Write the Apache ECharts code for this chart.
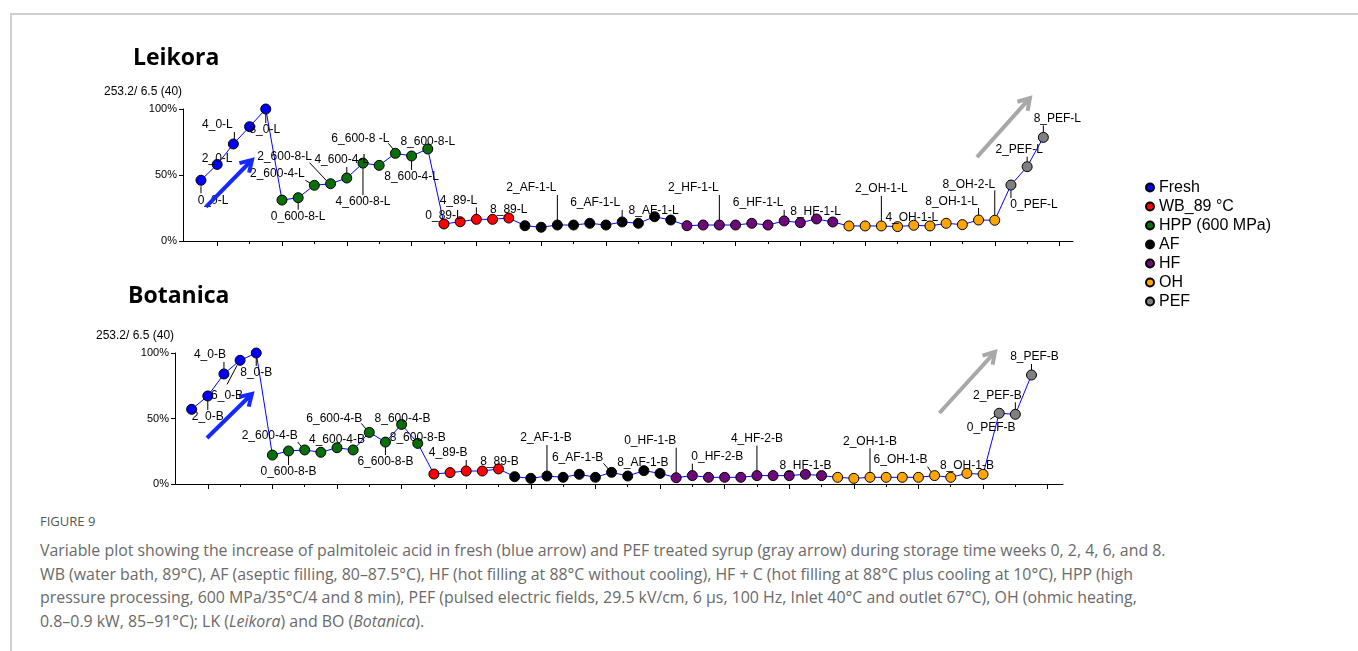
<!DOCTYPE html>
<html>
<head>
<meta charset="utf-8">
<title>Figure 9 – palmitoleic acid variable plot</title>
<script src="https://cdn.jsdelivr.net/npm/echarts@6/dist/echarts.min.js"></script>
<style>
  html, body { margin: 0; padding: 0; background: #fff; }
  body { width: 1358px; height: 651px; overflow: hidden; position: relative; }
  #frame { position: absolute; left: 10px; top: 13px; width: 1400px; height: 700px;
           border-top: 2px solid #cfcfcf; border-left: 2px solid #cfcfcf; }
  #chart { position: absolute; left: 0; top: 0; width: 1358px; height: 505px; }
  #fig { position: absolute; left: 40px; top: 512px; font: 13px 'Open Sans', sans-serif; color: #555; }
  #cap { position: absolute; left: 40px; top: 539px; font: 15.9px/23.7px 'Open Sans', sans-serif;
         color: #6a6a6a; white-space: nowrap; }
</style>
</head>
<body>
<div id="frame"></div>
<div id="chart"></div>
<div id="fig">FIGURE 9</div>
<div id="cap">Variable plot showing the increase of palmitoleic acid in fresh (blue arrow) and PEF treated syrup (gray arrow) during storage time weeks 0, 2, 4, 6, and 8.<br>WB (water bath, 89°C), AF (aseptic filling, 80–87.5°C), HF (hot filling at 88°C without cooling), HF + C (hot filling at 88°C plus cooling at 10°C), HPP (high<br>pressure processing, 600 MPa/35°C/4 and 8 min), PEF (pulsed electric fields, 29.5 kV/cm, 6 μs, 100 Hz, Inlet 40°C and outlet 67°C), OH (ohmic heating,<br>0.8–0.9 kW, 85–91°C); LK (<i>Leikora</i>) and BO (<i>Botanica</i>).</div>
<script>
// ---- treatment groups -------------------------------------------------------
const legendNames = ['Fresh', 'WB_89 °C', 'HPP (600 MPa)', 'AF', 'HF', 'OH', 'PEF'];
// order in which the groups follow each other along the x axis
const plotOrder = ['Fresh', 'HPP (600 MPa)', 'WB_89 °C', 'AF', 'HF', 'OH', 'PEF'];
const groupColors = {
  'Fresh': '#0000ff', 'WB_89 °C': '#ff0000', 'HPP (600 MPa)': '#0a6e0a',
  'AF': '#000000', 'HF': '#6e0a78', 'OH': '#ffa500', 'PEF': '#808080'
};
const yTicks = [0, 50, 100];
const scaleNote = '253.2/ 6.5 (40)';

// ---- Leikora (% of maximum) -------------------------------------------------
const leikoraFresh = [46, 58, 73.5, 86.6, 100];
const leikoraHPP   = [31, 32.8, 42.2, 43.4, 47.7, 59, 57.3, 66.4, 64.4, 69.7];
const leikoraWB    = [12.9, 14.6, 16.4, 16.4, 17.4];
const leikoraAF    = [11.6, 10.4, 12.1, 12.1, 13.4, 12.1, 14.4, 13.4, 18.4, 15.9];
const leikoraHF    = [11.6, 12.1, 12.1, 12.1, 13.4, 12.1, 15.2, 13.9, 16.7, 14.4];
const leikoraOH    = [11.4, 11.4, 11.4, 10.9, 11.9, 11.4, 13.4, 12.4, 15.9, 15.7];
const leikoraPEF   = [42.4, 56.3, 78.5];

// ---- Botanica (% of maximum) ------------------------------------------------
const botanicaFresh = [57, 67.2, 84, 94.4, 100];
const botanicaHPP   = [22.1, 25.2, 26, 24.2, 27.7, 26, 39.4, 32, 45.5, 31];
const botanicaWB    = [7.6, 8.7, 9.9, 9.9, 11.5];
const botanicaAF    = [5.6, 4.3, 6.1, 5.1, 7.4, 5.1, 8.9, 6.1, 10.2, 8.1];
const botanicaHF    = [4.8, 6.4, 5.1, 5.1, 5.1, 6.4, 6.4, 6.4, 7.4, 6.4];
const botanicaOH    = [5.1, 4.3, 5.1, 5.1, 5.1, 5.1, 6.4, 5.1, 8.1, 7.4];
const botanicaPEF   = [54, 53.2, 83.2];

// ---- sample tags (by position along the x axis) -----------------------------
const leikoraTags = {
  0: '0_0-L', 1: '2_0-L', 2: '4_0-L', 4: '8_0-L',
  6: '0_600-8-L', 7: '2_600-4-L', 8: '2_600-8-L', 9: '4_600-4-L', 10: '4_600-8-L',
  12: '6_600-8 -L', 13: '8_600-4-L', 14: '8_600-8-L',
  15: '0_89-L', 17: '4_89-L', 19: '8_89-L',
  22: '2_AF-1-L', 26: '6_AF-1-L', 28: '8_AF-1-L',
  32: '2_HF-1-L', 36: '6_HF-1-L', 38: '8_HF-1-L',
  42: '2_OH-1-L', 44: '4_OH-1-L', 48: '8_OH-1-L', 49: '8_OH-2-L',
  50: '0_PEF-L', 51: '2_PEF-L', 52: '8_PEF-L'
};
const botanicaTags = {
  1: '2_0-B', 2: '4_0-B', 3: '6_0-B', 4: '8_0-B',
  6: '0_600-8-B', 7: '2_600-4-B', 9: '4_600-4-B', 11: '6_600-4-B', 12: '6_600-8-B',
  13: '8_600-4-B', 14: '8_600-8-B',
  17: '4_89-B', 19: '8_89-B',
  22: '2_AF-1-B', 26: '6_AF-1-B', 28: '8_AF-1-B',
  30: '0_HF-1-B', 31: '0_HF-2-B', 35: '4_HF-2-B', 38: '8_HF-1-B',
  42: '2_OH-1-B', 46: '6_OH-1-B', 48: '8_OH-1-B',
  50: '0_PEF-B', 51: '2_PEF-B', 52: '8_PEF-B'
};

// tag placement in px relative to the marker centre:
// [label dx, label dy, (leader x1, y1, x2, y2)]
const leikoraTagPos = {
  0: [12, 20, 0, 6, 0, 13], 1: [0, -6], 2: [-16, -19, 1, -5, 1, -12], 4: [-1, 21, 0, 5, 0, 14],
  6: [0, 19, 0, 5, 0, 12], 7: [-37, -12, -9, -5, -4, -2], 8: [-46, -27, -21, -21, -4, -3],
  9: [-5, -18, 0, -11, 0, -5], 10: [0, 39, 0, 5, 0, 32], 12: [-35, -15, -7, -10, -2, -4],
  13: [0, 21, 0, 5, 0, 14], 14: [0, -7],
  15: [0, -8], 17: [-18, -19, 0, -12, 0, -5], 19: [0, -8],
  22: [-26, -37, 0, -30, 0, -5], 26: [-27, -19, 0, -12, 0, -5], 28: [-1, -6],
  32: [-26, -37, 0, -30, 0, -5], 36: [-26, -18, 0, -11, 0, -5], 38: [-1, -7],
  42: [0, -37, 0, -30, 0, -5], 44: [-2, -8], 48: [-27, -18, 0, -12, 0, -5], 49: [-26, -36, 0, -30, 0, -5],
  50: [23, 20, 0, 5, 0, 13], 51: [-8, -17, 0, -10, 0, -5], 52: [14, -19, 0, -12, 0, -5]
};
const botanicaTagPos = {
  1: [0, 21, 0, 5, 0, 14], 2: [-14, -19, 0, -12, 0, -5], 3: [-13, 35, -13, 24, -3, 5], 4: [0, 20, 0, 5, 0, 13],
  6: [0, 21, 0, 5, 0, 14], 7: [-35, -14, -7, -8, -3, -3], 9: [0, -8], 11: [-35, -14, -8, -9, -3, -3],
  12: [0, 20, 0, 5, 0, 13], 13: [1, -6], 14: [0, -6],
  17: [-18, -18, 0, -11, 0, -5], 19: [1, -7],
  22: [-1, -38, 0, -31, 0, -5], 26: [-34, -15, -8, -9, -3, -3], 28: [-1, -8],
  30: [-26, -37, 0, -30, 0, -5], 31: [25, -19, 0, -12, 0, -5], 35: [0, -37, 0, -30, 0, -5], 38: [0, -9],
  42: [0, -36, 0, -29, 0, -5], 46: [-34, -16, -7, -9, -3, -3], 48: [0, -8],
  50: [-8, 14, -9, 6, -3, 2], 51: [-18, -19, 0, -12, 0, -5], 52: [3, -18, 0, -11, 0, -5]
};

// trend arrows in data space: [from, to]
const leikoraArrows = [
  { color: '#1428ff', from: [0.31, 25.8], to: [3.15, 61.4] },
  { color: '#a8a8a8', from: [47.9, 63.6], to: [51.17, 108.3] }
];
const botanicaArrows = [
  { color: '#1428ff', from: [0.95, 35.1], to: [3.73, 68.7] },
  { color: '#a8a8a8', from: [46.3, 54.2], to: [49.74, 100.8] }
];

const leikora = {
  'Fresh': leikoraFresh, 'HPP (600 MPa)': leikoraHPP, 'WB_89 °C': leikoraWB,
  'AF': leikoraAF, 'HF': leikoraHF, 'OH': leikoraOH, 'PEF': leikoraPEF
};
const botanica = {
  'Fresh': botanicaFresh, 'HPP (600 MPa)': botanicaHPP, 'WB_89 °C': botanicaWB,
  'AF': botanicaAF, 'HF': botanicaHF, 'OH': botanicaOH, 'PEF': botanicaPEF
};

const FONT = "'Liberation Sans', Arial, sans-serif";
const majorTicks = [], minorTicks = [];
for (let i = 1; i <= 53; i += 4) majorTicks.push(i);
for (let i = 1; i <= 53; i += 2) if ((i - 1) % 4 !== 0) minorTicks.push(i);

function buildSeries(set, gridIdx, xIdx, tags, tagPos) {
  const out = [];
  const path = [];
  let k = 0;
  plotOrder.forEach(name => {
    const data = set[name].map(v => {
      const i = k++;
      path.push([i, v]);
      const item = { value: [i, v] };
      if (tags[i]) {
        const p = tagPos[i];
        item.label = { show: true, formatter: tags[i], position: 'inside', offset: [p[0], p[1]] };
      }
      return item;
    });
    out.push({
      type: 'scatter', name, xAxisIndex: xIdx, yAxisIndex: gridIdx, data,
      symbol: 'circle', symbolSize: 10, clip: false, z: 4,
      itemStyle: { color: groupColors[name], borderColor: '#000', borderWidth: 1, opacity: 1 },
      label: { show: false, color: '#000', fontSize: 12, fontFamily: FONT },
      emphasis: { disabled: true }
    });
  });
  out.unshift({
    type: 'line', name: 'trace', xAxisIndex: xIdx, yAxisIndex: gridIdx, data: path,
    showSymbol: false, symbol: 'none', clip: false, z: 2,
    lineStyle: { color: '#0000ff', width: 1 }, emphasis: { disabled: true }, silent: true
  });
  return out;
}

function xAxes(gridIndex, min, max) {
  return [{
    type: 'value', gridIndex, min, max, position: 'bottom',
    axisLine: { show: true, onZero: false, lineStyle: { color: '#000', width: 1 } },
    axisTick: { show: true, customValues: majorTicks, length: 5, lineStyle: { color: '#000' } },
    axisLabel: { show: false }, splitLine: { show: false }
  }, {
    type: 'value', gridIndex, min, max, position: 'bottom',
    axisLine: { show: false, onZero: false },
    axisTick: { show: true, customValues: minorTicks, length: 3, lineStyle: { color: '#000' } },
    axisLabel: { show: false }, splitLine: { show: false }
  }];
}
function yAxis(gridIndex) {
  return {
    type: 'value', gridIndex, min: 0, max: 100, interval: 50, position: 'left',
    axisLine: { show: true, onZero: false, lineStyle: { color: '#000' } },
    axisTick: { show: true, length: 4, lineStyle: { color: '#000' } },
    axisLabel: { formatter: '{value}%', color: '#000', fontSize: 11, fontFamily: FONT, margin: 6 },
    splitLine: { show: false }
  };
}

const sL = buildSeries(leikora, 0, 0, leikoraTags, leikoraTagPos);
const sB = buildSeries(botanica, 1, 2, botanicaTags, botanicaTagPos);

const chart = echarts.init(document.getElementById('chart'), null, { renderer: 'canvas' });
chart.setOption({
  animation: false,
  textStyle: { fontFamily: FONT },
  grid: [
    { left: 183, top: 109, width: 890, height: 132 },
    { left: 175, top: 353, width: 888, height: 131 }
  ],
  xAxis: [...xAxes(0, -1.11, 53.83), ...xAxes(1, -1.03, 53.95)],
  yAxis: [yAxis(0), yAxis(1)],
  legend: {
    data: legendNames, orient: 'vertical', left: 1140, top: 173,
    itemWidth: 8, itemHeight: 8, itemGap: 0, icon: 'circle',
    textStyle: { fontSize: 16, lineHeight: 19, color: '#000', fontFamily: FONT },
    selectedMode: false
  },
  series: [...sL, ...sB]
});

// leader lines, arrows and headings, placed through the axes' own scales
const lineSeriesL = 0, lineSeriesB = sL.length;
const gfx = [];
function addLeaders(seriesIndex, set, tagPos) {
  let k = 0;
  const pts = [];
  plotOrder.forEach(name => set[name].forEach(v => pts.push([k++, v])));
  Object.keys(tagPos).forEach(key => {
    const p = tagPos[key];
    if (p.length < 6) return;
    const c = chart.convertToPixel({ seriesIndex }, pts[+key]);
    gfx.push({
      type: 'line', z: 3, silent: true,
      shape: { x1: c[0] + p[2], y1: c[1] + p[3], x2: c[0] + p[4], y2: c[1] + p[5] },
      style: { stroke: '#000', lineWidth: 1 }
    });
  });
}
function addArrows(seriesIndex, arrows) {
  arrows.forEach(a => {
    const p0 = chart.convertToPixel({ seriesIndex }, a.from);
    const p1 = chart.convertToPixel({ seriesIndex }, a.to);
    const ang = Math.atan2(p1[1] - p0[1], p1[0] - p0[0]);
    const L = 13, spread = 0.55;
    const h1 = [p1[0] - L * Math.cos(ang - spread), p1[1] - L * Math.sin(ang - spread)];
    const h2 = [p1[0] - L * Math.cos(ang + spread), p1[1] - L * Math.sin(ang + spread)];
    gfx.push({
      type: 'line', z: 5, silent: true,
      shape: { x1: p0[0], y1: p0[1], x2: p1[0] - 1.5 * Math.cos(ang), y2: p1[1] - 1.5 * Math.sin(ang) },
      style: { stroke: a.color, lineWidth: 4, lineCap: 'butt' }
    });
    gfx.push({
      type: 'polyline', z: 5, silent: true,
      shape: { points: [h1, p1, h2] },
      style: { stroke: a.color, lineWidth: 4, fill: null, lineJoin: 'miter', lineCap: 'butt' }
    });
  });
}
addLeaders(lineSeriesL, leikora, leikoraTagPos);
addLeaders(lineSeriesB, botanica, botanicaTagPos);
addArrows(lineSeriesL, leikoraArrows);
addArrows(lineSeriesB, botanicaArrows);

const heading = (text, x, y) => ({
  type: 'text', x, y, silent: true,
  style: { text, fill: '#000', font: "bold 23px 'Open Sans', sans-serif", textVerticalAlign: 'middle' }
});
const note = (x, y) => ({
  type: 'text', x, y, silent: true,
  style: { text: scaleNote, fill: '#000', font: "12px 'Liberation Sans', Arial, sans-serif",
           textVerticalAlign: 'middle' }
});
gfx.push(heading('Leikora', 133, 58), heading('Botanica', 128, 296));
gfx.push(note(104, 92), note(96, 336));

chart.setOption({ graphic: gfx });
</script>
</body>
</html>
